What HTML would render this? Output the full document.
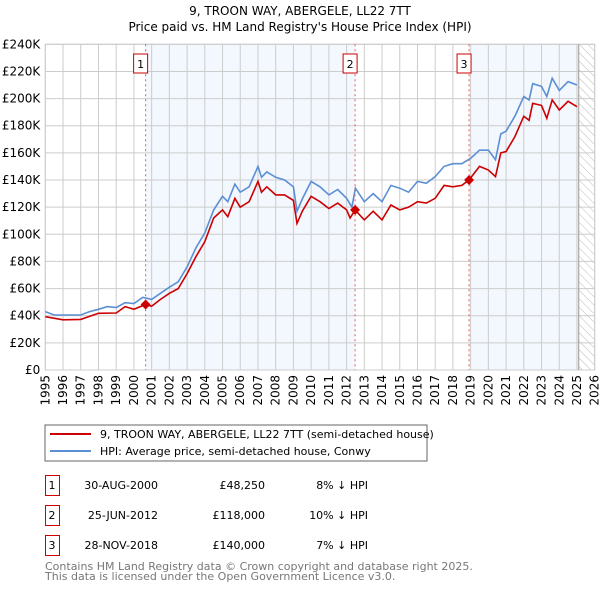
<!DOCTYPE html>
<html><head><meta charset="utf-8">
<style>
body{margin:0;background:#fff;width:600px;height:590px;overflow:hidden;font-family:"DejaVu Sans","Liberation Sans",sans-serif;}
svg text{font-family:"DejaVu Sans","Liberation Sans",sans-serif;}
</style></head>
<body>
<svg id="c" width="600" height="590" xmlns="http://www.w3.org/2000/svg">
<text x="300" y="15" text-anchor="middle" font-size="12" fill="#000">9, TROON WAY, ABERGELE, LL22 7TT</text>
<text x="300" y="31" text-anchor="middle" font-size="12" fill="#000">Price paid vs. HM Land Registry's House Price Index (HPI)</text>
<defs><pattern id="hatch" width="6" height="6" patternUnits="userSpaceOnUse" patternTransform="rotate(-45)"><line x1="0" y1="0" x2="0" y2="6" stroke="#bbb" stroke-width="1"/></pattern></defs>
<g id="bands"></g><g id="grid"></g><g id="axes"></g><g id="series"></g><g id="marks"></g>

<g>
<rect x="45" y="425" width="382" height="36" fill="#fff" stroke="#666"/>
<line x1="50" y1="434" x2="91" y2="434" stroke="#cc0000" stroke-width="2"/>
<text x="100" y="438" font-size="11">9, TROON WAY, ABERGELE, LL22 7TT (semi-detached house)</text>
<line x1="50" y1="451" x2="91" y2="451" stroke="#5b8fd4" stroke-width="2"/>
<text x="100" y="455" font-size="11">HPI: Average price, semi-detached house, Conwy</text>
</g>
<g id="table" font-size="11"></g>
<text x="45" y="570" font-size="11" fill="#777">Contains HM Land Registry data © Crown copyright and database right 2025.</text>
<text x="45" y="580" font-size="11" fill="#777">This data is licensed under the Open Government Licence v3.0.</text>
</svg>
<script>
const hpiYears=[1995,1995.5,1996,1997,1997.5,1998,1998.5,1999,1999.5,2000,2000.5,2001,2001.5,2002,2002.5,2003,2003.5,2004,2004.5,2005,2005.3,2005.7,2006,2006.5,2007,2007.2,2007.5,2008,2008.5,2009,2009.2,2009.5,2010,2010.5,2011,2011.5,2012,2012.3,2012.5,2013,2013.5,2014,2014.5,2015,2015.5,2016,2016.5,2017,2017.5,2018,2018.5,2019,2019.5,2020,2020.4,2020.7,2021,2021.5,2022,2022.3,2022.5,2023,2023.3,2023.6,2024,2024.5,2025];
const hpiValues=[43,40.5,40.5,40.5,43,44.7,46.7,46,49.6,49,53.5,52,56.5,61,65,76,90,101,118,128,124,137,131,135,150,142,146,142,140,135,117,126,139,135,129,133,126.5,120,134,124,130,124,136,134,131,139,137.6,142.5,150,152,152,156,162,162,155,174,176,187,201.5,199,211,209,201.5,215,206,212.5,210];
const ppYears=[1995,1996,1997,1998,1999,1999.5,2000,2000.66,2001,2001.5,2002,2002.5,2003,2003.5,2004,2004.5,2005,2005.3,2005.7,2006,2006.5,2007,2007.2,2007.5,2008,2008.5,2009,2009.2,2009.5,2010,2010.5,2011,2011.5,2012,2012.2,2012.48,2013,2013.5,2014,2014.5,2015,2015.5,2016,2016.5,2017,2017.5,2018,2018.5,2018.91,2019.5,2020,2020.4,2020.7,2021,2021.5,2022,2022.3,2022.5,2023,2023.3,2023.6,2024,2024.5,2025];
const ppValues=[39.3,37,37.3,41.8,42,46.7,44.7,48.25,47,52,56.5,60,71,83.5,94.6,112,118,113,126.5,120,124,139,131,135,129,129,125,108,117,128,124,119,123,118,112,118,110.6,117,110.6,121.6,118,120,124,123,126.5,136,135,136,140,150,147.4,142.5,160,161,172,187,184,196.5,195,185.5,199,191.6,198,194];
const saleLabels=["1","2","3"];
const saleYears=[2000.66,2012.48,2018.91];
const saleValues=[48.25,118,140];
const saleDates=["30-AUG-2000","25-JUN-2012","28-NOV-2018"];
const salePrices=["£48,250","£118,000","£140,000"];
const saleDiffs=["8% ↓ HPI","10% ↓ HPI","7% ↓ HPI"];
const yTicks=[0,20,40,60,80,100,120,140,160,180,200,220,240];
const xTicks=[1995,1996,1997,1998,1999,2000,2001,2002,2003,2004,2005,2006,2007,2008,2009,2010,2011,2012,2013,2014,2015,2016,2017,2018,2019,2020,2021,2022,2023,2024,2025,2026];
const dataEnd=2025.1;

const X0=45.3,X1=594.7,Y0=370,Y1=44.3;
const sx=y=>X0+(y-1995)/(2026-1995)*(X1-X0);
const sy=v=>Y0-v/240*(Y0-Y1);
const NS="http://www.w3.org/2000/svg";
function mk(parent,tag,attrs){const e=document.createElementNS(NS,tag);for(const k in attrs)e.setAttribute(k,attrs[k]);document.getElementById(parent).appendChild(e);return e;}

// bands
let b=mk('bands','rect',{x:sx(saleYears[0]),y:Y1,width:sx(saleYears[1])-sx(saleYears[0]),height:Y0-Y1,fill:'#eef3fd',opacity:0.7});


b=mk('bands','rect',{x:sx(saleYears[2]),y:Y1,width:sx(dataEnd)-sx(saleYears[2]),height:Y0-Y1,fill:'#eef3fd',opacity:0.7});


b=mk('bands','rect',{x:sx(dataEnd),y:Y1,width:X1-sx(dataEnd),height:Y0-Y1,fill:'url(#hatch)'});



// grid
yTicks.forEach(t=>{
 const l=mk('grid','line',{x1:X0,x2:X1,y1:sy(t),y2:sy(t),stroke:'#ccc','stroke-width':1});
 
 
 const tx=mk('axes','text',{x:X0-5,y:sy(t)+4,'text-anchor':'end','font-size':12});
 
 
 tx.textContent=t===0?'£0':'£'+t+'K';
});
xTicks.forEach(t=>{
 const l=mk('grid','line',{x1:sx(t),x2:sx(t),y1:Y1,y2:Y0,stroke:'#ccc','stroke-width':1});
 
 
 const tx=mk('axes','text',{x:0,y:0,'text-anchor':'end','font-size':12,transform:`translate(${sx(t)+4},${Y0+5}) rotate(-90)`});
 
 
 tx.textContent=t;
});
let fr=mk('axes','rect',{x:X0,y:Y1,width:X1-X0,height:Y0-Y1,fill:'none',stroke:'#ccc'});


let el=mk('axes','line',{x1:sx(dataEnd),x2:sx(dataEnd),y1:Y1,y2:Y0,stroke:'#999','stroke-width':1});



// series
function path(xs,vs){return xs.map((x,i)=>(i?'L':'M')+sx(x).toFixed(1)+','+sy(vs[i]).toFixed(1)).join('');}
let p=mk('series','path',{d:path(hpiYears,hpiValues),fill:'none',stroke:'#5b8fd4','stroke-width':1.6});


p=mk('series','path',{d:path(ppYears,ppValues),fill:'none',stroke:'#cc0000','stroke-width':1.6});



// sale markers
saleYears.forEach((y,i)=>{
 const l=mk('marks','line',{x1:sx(y),x2:sx(y),y1:Y1,y2:Y0,stroke:'#e55','stroke-width':1,'stroke-dasharray':'2,3'});
 
 
 const bx=mk('marks','rect',{x:sx(y)-12,y:54,width:14,height:19,fill:'#fff',stroke:'#cc0000'});
 
 
 const t=mk('marks','text',{x:sx(y)-5,y:68,'text-anchor':'middle','font-size':11});
 
 
 t.textContent=saleLabels[i];
 const cx=sx(y),cy=sy(saleValues[i]);
 const d=mk('marks','path',{d:`M${cx},${cy-5}L${cx+5},${cy}L${cx},${cy+5}L${cx-5},${cy}Z`,fill:'#cc0000'});
 
 
});

// table
saleLabels.forEach((s,i)=>{
 const y=475+i*30;
 const r=mk('table','rect',{x:45.5,y:y+0.5,width:14,height:20,fill:'none',stroke:'#cc0000'});
 
 
 const cells=[[52,s,'middle'],[158,saleDates[i],'end'],[265,salePrices[i],'end'],[368,saleDiffs[i],'end']];
 cells.forEach((c,j)=>{
  const t=mk('table','text',{x:c[0],y:y+14,'text-anchor':c[2],'font-size':11});
  
  
  t.textContent=c[1];
 });
});
</script>
</body></html>
